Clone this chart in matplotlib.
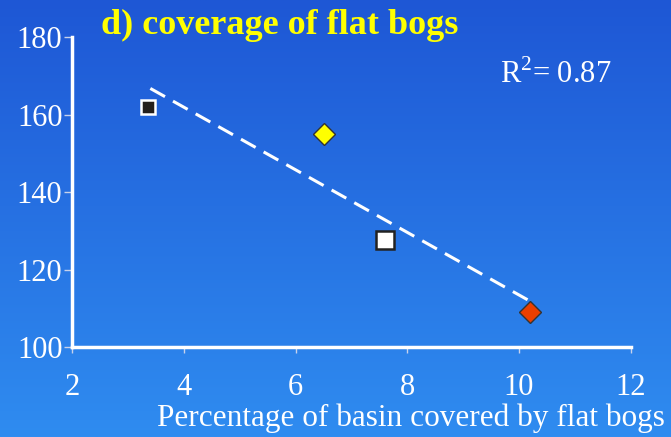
import numpy as np
import matplotlib
matplotlib.use("Agg")
import matplotlib.pyplot as plt

# data
basin_pct = [3.35, 6.5, 7.6, 10.2]
values = [162, 155, 127.5, 109]
marker_shapes = ["s", "D", "s", "D"]
face_colors = ["#231f1c", "#ffff00", "#ffffff", "#ea3f00"]
edge_colors = ["#ffffff", "#333333", "#222222", "#333333"]
marker_sizes = [10, 11, 12.5, 11.5]
trend_x = [3.4, 10.2]
x_ticks = [2, 4, 6, 8, 10, 12]
y_ticks = [100, 120, 140, 160, 180]

plt.rcParams['font.family'] = 'Liberation Serif'
plt.rcParams['mathtext.fontset'] = 'custom'
plt.rcParams['mathtext.rm'] = 'Liberation Serif'

fig = plt.figure(figsize=(6.71, 4.37), dpi=100)

# blue gradient background
bg = fig.add_axes([0, 0, 1, 1], zorder=-1)
top = np.array([0x1e, 0x57, 0xd5]) / 255
bot = np.array([0x2f, 0x8c, 0xf0]) / 255
t = np.linspace(0, 1, 256)[:, None, None]
grad = top * (1 - t) + bot * t
grad = np.repeat(grad, 2, axis=1)
bg.imshow(grad, aspect='auto', extent=[0, 1, 0, 1])
bg.axis('off')

ax = fig.add_axes([0.1075, 0.206, 0.8325, 0.709])
ax.set_facecolor('none')

# linear fit for the dashed trend line
k, b = np.polyfit(basin_pct, values, 1)
tx = np.array(trend_x)
ax.plot(tx, k * tx + b, color='white', linewidth=2.2, dashes=(5.5, 3), zorder=2)

for x, y, m, fc, ec, ms in zip(basin_pct, values, marker_shapes, face_colors, edge_colors, marker_sizes):
    ax.plot(x, y, marker=m, markersize=ms, markerfacecolor=fc, markeredgecolor=ec,
            markeredgewidth=1.8 if m == "s" else 1.0, linestyle='none', zorder=3)

ax.set_xlim(2, 12)
ax.set_ylim(100, 180)
ax.set_xticks(x_ticks)
ax.set_yticks(y_ticks)

for s in ['top', 'right']:
    ax.spines[s].set_visible(False)
for s in ['left', 'bottom']:
    ax.spines[s].set_color('white')
    ax.spines[s].set_linewidth(2.5)

ax.tick_params(axis='y', colors='#c8d2ea', length=6, width=1, pad=1, labelsize=22, labelcolor='white')
ax.tick_params(axis='x', colors='#c8d2ea', length=4, width=1, pad=15, labelsize=22, labelcolor='white')

# x axis title placed like the original slide
fig.text(0.991, 0.043, "Percentage of basin covered by flat bogs", fontsize=22.5,
         color='white', va='center', ha='right')

fig.text(0.15, 0.942, "d) coverage of flat bogs", fontsize=26, fontweight='bold',
         color='#ffff00', va='center', ha='left')
fig.text(0.745, 0.83, "R$^{2}$= 0.87", fontsize=22, color='white', va='center', ha='left')

fig.savefig("out.png", dpi=100)
